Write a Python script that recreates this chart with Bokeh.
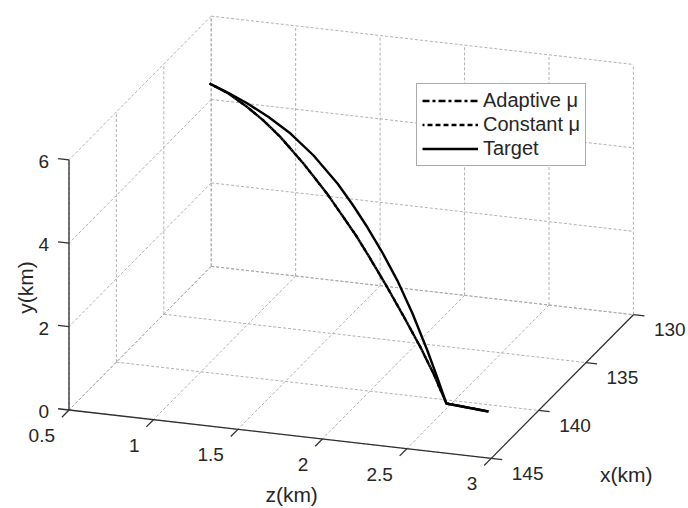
import numpy as np
from bokeh.plotting import figure
from bokeh.models import Range1d, Legend, LegendItem
from bokeh.core.properties import value
from bokeh.embed import file_html
from bokeh.resources import INLINE

# ---------------- data ----------------
z_ticks = [0.5, 1, 1.5, 2, 2.5, 3]
z_tick_labels = ["0.5", "1", "1.5", "2", "2.5", "3"]
x_ticks = [130, 135, 140, 145]
x_tick_labels = ["130", "135", "140", "145"]
y_ticks = [0, 2, 4, 6]
y_tick_labels = ["0", "2", "4", "6"]

# trajectories (km): z, x, y
target_z = [0.771, 0.908, 1.044, 1.195, 1.353, 1.518, 1.690, 1.798, 1.906, 2.013,
            2.121, 2.229, 2.336, 2.408, 2.473, 2.739]
target_x = [135.00, 135.43, 135.86, 136.33, 136.83, 137.34, 137.88, 138.22, 138.56, 138.90,
            139.24, 139.57, 139.91, 140.14, 140.34, 140.64]
target_y = [5.658, 5.592, 5.502, 5.357, 5.148, 4.816, 4.349, 3.973, 3.549, 3.077,
            2.533, 1.869, 1.109, 0.547, 0.000, 0.000]

adaptive_z = [0.771, 0.908, 1.044, 1.159, 1.281, 1.446, 1.616, 1.719, 1.832, 1.934,
              2.047, 2.164, 2.286, 2.380, 2.473, 2.739]
adaptive_x = [135.00, 135.43, 135.86, 136.22, 136.60, 137.12, 137.65, 137.97, 138.33, 138.65,
              139.00, 139.37, 139.75, 140.05, 140.34, 140.64]
adaptive_y = [5.658, 5.580, 5.413, 5.230, 4.975, 4.539, 4.014, 3.640, 3.228, 2.791,
              2.285, 1.733, 1.129, 0.609, 0.000, 0.000]

constant_z = [0.771, 0.908, 1.044, 1.159, 1.281, 1.446, 1.616, 1.719, 1.832, 1.934,
              2.047, 2.164, 2.286, 2.380, 2.473, 2.739]
constant_x = [135.00, 135.43, 135.86, 136.22, 136.60, 137.12, 137.65, 137.97, 138.33, 138.65,
              139.00, 139.37, 139.75, 140.05, 140.34, 140.64]
constant_y = [5.658, 5.580, 5.413, 5.230, 4.975, 4.539, 4.014, 3.640, 3.228, 2.791,
              2.285, 1.733, 1.129, 0.609, 0.000, 0.000]

# ---------------- view (orthographic projection) ----------------
Z0, Z1 = 0.5, 3.0
X0, X1 = 130.0, 145.0
Y0, Y1 = 0.0, 6.0
ORIGIN = (68.5, 409.5)      # screen position of (z=Z0, x=X1, y=Y0)
EZ = (168.9, 19.34)         # screen step per km of z
EX = (-9.48, 9.577)         # screen step per km of x
EY = (0.0, -41.7)           # screen step per km of y


def proj(z, x, y):
    z = np.asarray(z, float)
    x = np.asarray(x, float)
    y = np.asarray(y, float)
    sx = ORIGIN[0] + (z - Z0) * EZ[0] + (x - X1) * EX[0] + y * EY[0]
    sy = ORIGIN[1] + (z - Z0) * EZ[1] + (x - X1) * EX[1] + y * EY[1]
    return sx, sy


def seg(p, q):
    a = proj(*p)
    b = proj(*q)
    return [float(a[0]), float(b[0])], [float(a[1]), float(b[1])]


W, H = 688, 508
p = figure(width=W, height=H, x_range=Range1d(0, W), y_range=Range1d(H, 0),
           output_backend="svg", toolbar_location=None, min_border=0)
p.axis.visible = False
p.grid.visible = False
p.outline_line_color = None
p.background_fill_color = "white"
p.border_fill_color = "white"

FONT = "Liberation Sans"
TXT = "#262626"

# ---------------- grid on the three back planes ----------------
gx, gy = [], []
for zt in z_ticks:
    for a, b in [((zt, X0, Y0), (zt, X1, Y0)), ((zt, X0, Y0), (zt, X0, Y1))]:
        sx, sy = seg(a, b); gx.append(sx); gy.append(sy)
for xt in x_ticks:
    for a, b in [((Z0, xt, Y0), (Z1, xt, Y0)), ((Z0, xt, Y0), (Z0, xt, Y1))]:
        sx, sy = seg(a, b); gx.append(sx); gy.append(sy)
for yt in y_ticks:
    for a, b in [((Z0, X0, yt), (Z1, X0, yt)), ((Z0, X0, yt), (Z0, X1, yt))]:
        sx, sy = seg(a, b); gx.append(sx); gy.append(sy)
p.multi_line(gx, gy, line_color="#a8a8a8", line_width=1, line_dash="3 2", line_alpha=0.9)

# ---------------- axes ----------------
ax, ay = [], []
for a, b in [((Z0, X1, Y0), (Z1, X1, Y0)),
             ((Z1, X0, Y0), (Z1, X1, Y0)),
             ((Z0, X1, Y0), (Z0, X1, Y1))]:
    sx, sy = seg(a, b); ax.append(sx); ay.append(sy)
# ticks
for zt in z_ticks:
    sx, sy = seg((zt, X1, Y0), (zt, X1 + 0.75, Y0)); ax.append(sx); ay.append(sy)
for xt in x_ticks:
    sx, sy = seg((Z1, xt, Y0), (Z1 + 0.065, xt, Y0)); ax.append(sx); ay.append(sy)
for yt in y_ticks:
    sx, sy = seg((Z0, X1, yt), (Z0 - 0.065, X1, yt)); ax.append(sx); ay.append(sy)
p.multi_line(ax, ay, line_color="#303030", line_width=1.3)

# tick labels
zx, zy = proj(z_ticks, [X1] * len(z_ticks), [Y0] * len(z_ticks))
p.text(x=list(zx - 14), y=list(zy + 25.5), text=z_tick_labels, text_align="right",
       text_baseline="middle", text_font=value(FONT), text_font_size="19px", text_color=TXT)
xx, xy = proj([Z1] * len(x_ticks), x_ticks, [Y0] * len(x_ticks))
p.text(x=list(xx + 20.5), y=list(xy + 15), text=x_tick_labels, text_align="left",
       text_baseline="middle", text_font=value(FONT), text_font_size="19px", text_color=TXT)
yx, yy = proj([Z0] * len(y_ticks), [X1] * len(y_ticks), y_ticks)
p.text(x=list(yx - 20), y=list(yy + 1.5), text=y_tick_labels, text_align="right",
       text_baseline="middle", text_font=value(FONT), text_font_size="19px", text_color=TXT)

# axis labels
lx, ly = proj([(Z0 + Z1) / 2], [X1], [Y0])
p.text(x=[float(lx[0]) + 11.5], y=[float(ly[0]) + 60], text=["z(km)"], text_align="center",
       text_baseline="middle", text_font=value(FONT), text_font_size="21px", text_color=TXT)
lx, ly = proj([Z1], [(X0 + X1) / 2], [Y0])
p.text(x=[float(lx[0]) + 64], y=[float(ly[0]) + 88], text=["x(km)"], text_align="center",
       text_baseline="middle", text_font=value(FONT), text_font_size="21px", text_color=TXT)
lx, ly = proj([Z0], [X1], [(Y0 + Y1) / 2])
p.text(x=[float(lx[0]) - 43.5], y=[float(ly[0]) + 2.5], text=["y(km)"], text_align="center",
       text_baseline="middle", angle=np.pi / 2, text_font=value(FONT), text_font_size="21px",
       text_color=TXT)

# ---------------- trajectories ----------------
tx, ty = proj(target_z, target_x, target_y)
cx, cy = proj(constant_z, constant_x, constant_y)
axx, axy = proj(adaptive_z, adaptive_x, adaptive_y)
r_t = p.line(list(tx), list(ty), line_color="black", line_width=2.4, line_join="round")
r_c = p.line(list(cx), list(cy), line_color="black", line_width=2.4, line_dash="5 3",
             line_dash_offset=3, line_join="round")
r_a = p.line(list(axx), list(axy), line_color="black", line_width=2.4, line_dash="7 3 3 3",
             line_join="round")

legend = Legend(items=[LegendItem(label="Adaptive \u03bc", renderers=[r_a]),
                       LegendItem(label="Constant \u03bc", renderers=[r_c]),
                       LegendItem(label="Target", renderers=[r_t])],
                location=(416, 342), orientation="vertical")
legend.label_text_font = FONT
legend.label_text_font_size = "20px"
legend.label_text_color = TXT
legend.glyph_width = 56
legend.glyph_height = 19
legend.label_height = 19
legend.spacing = 1
legend.padding = 5
legend.margin = 0
legend.label_standoff = 5
legend.border_line_color = "#555555"
legend.border_line_width = 1
legend.background_fill_color = "white"
legend.background_fill_alpha = 1.0
p.add_layout(legend)

open("out.html", "w").write(file_html(p, INLINE))
